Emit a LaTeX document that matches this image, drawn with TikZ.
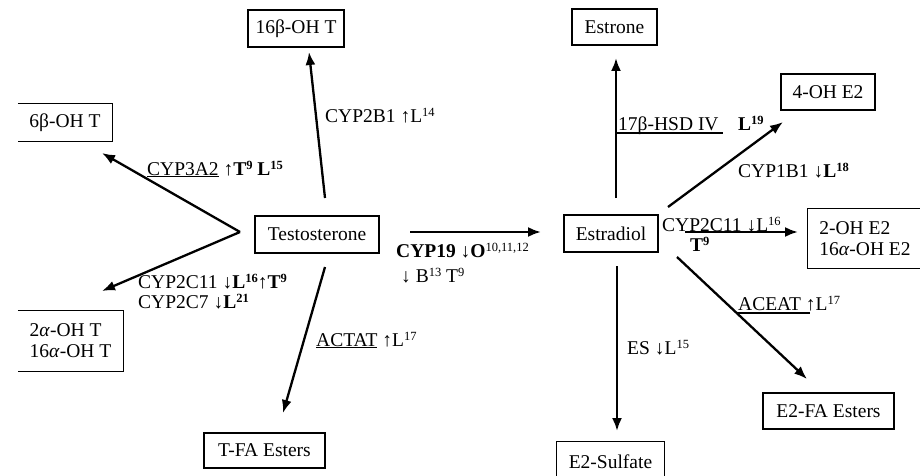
\documentclass[tikz,border=0pt]{standalone}
\usepackage{fontspec}
\setmainfont{Liberation Serif}
\usetikzlibrary{arrows.meta}
\newcommand\supx[1]{\raisebox{0.62ex}{\fontsize{12.5}{12.5}\selectfont #1}}
\newcommand\bsupx[1]{\raisebox{0.62ex}{\fontsize{12.5}{12.5}\selectfont\bfseries #1}}
\begin{document}
\begin{tikzpicture}[x=1pt,y=-1pt,
  font=\fontsize{19.5}{21}\selectfont,
  box/.style={draw, line width=1.1pt, inner sep=0pt},
  openbox/.style={inner sep=0pt},
  side/.style={line width=1.1pt},
  arr/.style={line width=2.3pt, -{Latex[length=13pt,width=10pt]}},
  lbl/.style={anchor=base west, inner sep=0pt},
  ul/.style={line width=1.1pt}]
\fill[white] (0,0) rectangle (920,476);
\useasboundingbox (0,0) rectangle (920,476);

% boxes
\node[box, minimum width=96pt, minimum height=37pt] (t16b) at (296,28.5) {16β-OH T};
\node[openbox, minimum width=94pt, minimum height=37pt] (t6b) at (65,122.5) {6β-OH T};
\draw[side] (t6b.north west) -- (t6b.north east) -- (t6b.south east) -- (t6b.south west);
\node[box, minimum width=124pt, minimum height=37pt] (testo) at (317,234.5) {Testosterone};
\node[openbox, minimum width=105pt, minimum height=60pt, align=left] (t2a) at (70.5,341) {2\textit{α}-OH T\\16\textit{α}-OH T};
\draw[side] (t2a.north west) -- (t2a.north east) -- (t2a.south east) -- (t2a.south west);
\node[box, minimum width=121pt, minimum height=35pt] (tfa) at (264.5,450.5) {T-FA Esters};
\node[box, minimum width=85pt, minimum height=36pt] (estrone) at (614.5,27) {Estrone};
\node[box, minimum width=94pt, minimum height=36pt] (oh4) at (828,92) {4-OH E2};
\node[box, minimum width=94pt, minimum height=37pt] (estradiol) at (611,233.5) {Estradiol};
\node[openbox, minimum width=115pt, minimum height=59pt, align=left] (oh2) at (865,238.5) {2-OH E2\\16\textit{α}-OH E2};
\draw[side] (oh2.north east) -- (oh2.north west) -- (oh2.south west) -- (oh2.south east);
\node[box, minimum width=131pt, minimum height=36pt] (e2fa) at (828.5,411) {E2-FA Esters};
\node[openbox, minimum width=107pt, minimum height=40pt] (e2s) at (610.5,462) {E2-Sulfate};
\draw[side] (e2s.south west) -- (e2s.north west) -- (e2s.north east) -- (e2s.south east);

% connector end points
\coordinate (a1s) at (325,198);  \coordinate (a1e) at (309,52);
\coordinate (vx)  at (240,232);
\coordinate (a2e) at (102,153);  \coordinate (a3e) at (102,291);
\coordinate (a4s) at (325,267);  \coordinate (a4e) at (283,413);
\coordinate (a5s) at (410,232);  \coordinate (a5e) at (541,232);
\coordinate (a6s) at (616,198);  \coordinate (a6e) at (616,58);
\coordinate (a7s) at (668,207);  \coordinate (a7e) at (783,122);
\coordinate (a8s) at (685,232);  \coordinate (a8e) at (798,232);
\coordinate (a9s) at (617,266);  \coordinate (a9e) at (617,431);
\coordinate (a10s) at (677,257); \coordinate (a10e) at (807,379);

\draw[arr] (a1s) -- (a1e);
\draw[arr] (vx) -- (a2e);
\draw[arr] (vx) -- (a3e);
\draw[arr] (a4s) -- (a4e);
\draw[arr] (a5s) -- (a5e);
\draw[arr] (a6s) -- (a6e);
\draw[arr] (a7s) -- (a7e);
\draw[arr] (a8s) -- (a8e);
\draw[arr] (a9s) -- (a9e);
\draw[arr] (a10s) -- (a10e);

% labels
\node[lbl] (l2b1) at (325,122) {CYP2B1 ↑L\supx{14}};
\node[lbl] (l3a2) at (147,175) {\underline{CYP3A2} ↑\textbf{T}\bsupx{9} \textbf{L}\bsupx{15}};
\node[lbl] (l2c11a) at (138,288) {CYP2C11 ↓\textbf{L}\bsupx{16}↑\textbf{T}\bsupx{9}};
\node[lbl] (l2c7) at (138,308) {CYP2C7 ↓\textbf{L}\bsupx{21}};
\node[lbl] (lactat) at (316,346) {\underline{ACTAT} ↑L\supx{17}};
\node[lbl] (lcyp19) at (396,257) {\textbf{CYP19} ↓\textbf{O}\supx{10,11,12}};
\node[lbl] (lb13) at (401,282) {↓ B\supx{13} T\supx{9}};
\node[lbl] (lhsd) at (618,130) {17β-HSD IV};
\coordinate (uh1) at (616,133); \coordinate (uh2) at (723,133);
\draw[ul] (uh1) -- (uh2);
\node[lbl] (l19) at (738,130) {\textbf{L}\bsupx{19}};
\node[lbl] (l1b1) at (738,177) {CYP1B1 ↓\textbf{L}\bsupx{18}};
\node[lbl] (l2c11b) at (662,231) {CYP2C11 ↓L\supx{16}};
\node[lbl] (lt9) at (690,251) {\textbf{T}\bsupx{9}};
\node[lbl] (les) at (627,354) {ES ↓L\supx{15}};
\node[lbl] (laceat) at (738,310) {ACEAT ↑L\supx{17}};
\coordinate (ua1) at (736,313); \coordinate (ua2) at (810,313);
\draw[ul] (ua1) -- (ua2);
\end{tikzpicture}
\end{document}
